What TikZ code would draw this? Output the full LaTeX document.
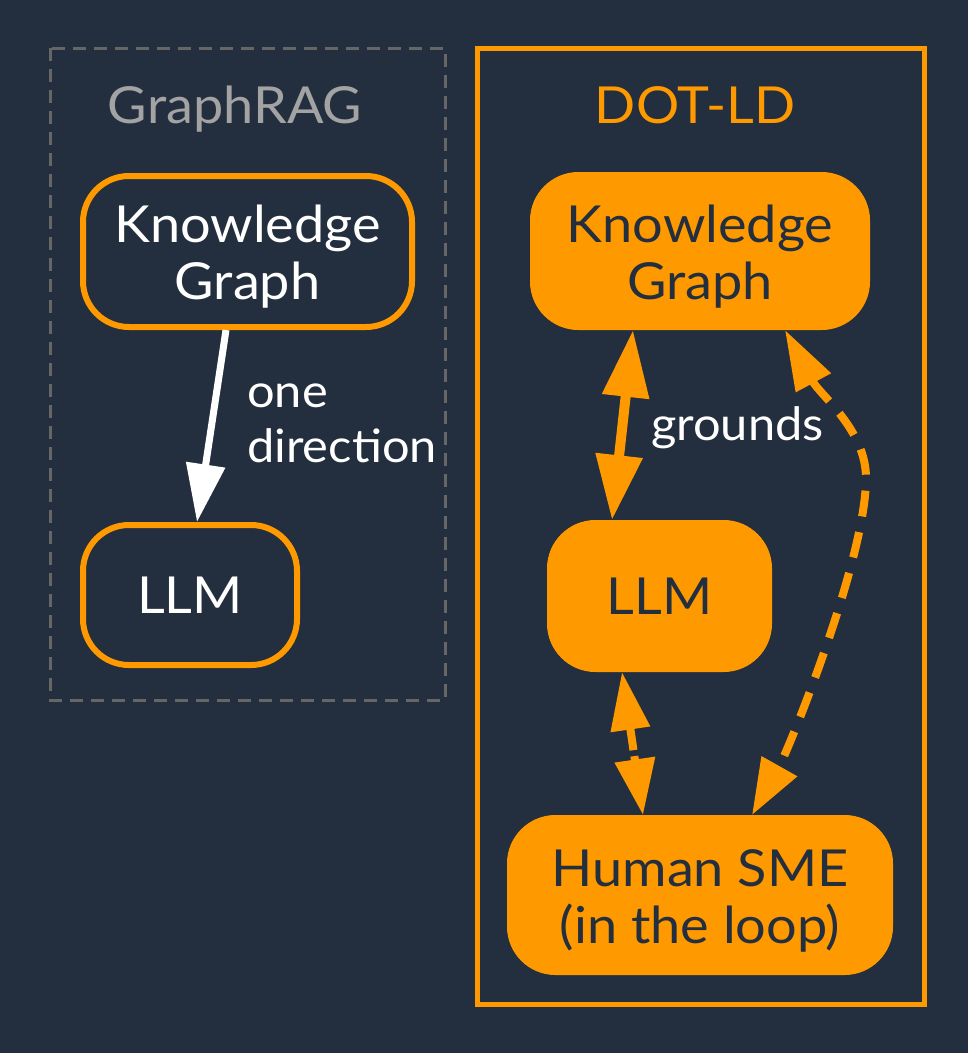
\documentclass[tikz,border=0pt]{standalone}
\usepackage{fontspec}
\setmainfont{Lato}[FakeStretch=1.06]
\usetikzlibrary{arrows.meta,calc}
\definecolor{ink}{HTML}{232F3E}
\definecolor{amber}{HTML}{FF9900}
\definecolor{clgrey}{HTML}{666666}
\definecolor{lblgrey}{HTML}{A3A3A3}
% invisible height that lowers two-line node text a little
\newcommand{\lowerby}{\rule{0pt}{48pt}}
\tikzset{
  x=1pt, y=-1pt,
  nodetext/.style={font=\fontsize{51}{57}\selectfont, align=center},
  outlined/.style={nodetext, draw=amber, line width=6pt, fill=ink, text=white,
    rounded corners=46pt, inner sep=0pt},
  solid box/.style={nodetext, draw=amber, fill=amber, line width=1pt, text=ink,
    rounded corners=48pt, inner sep=0pt},
  edgelabel/.style={font=\fontsize{46}{55}\selectfont, text=white, align=left, inner sep=0pt},
  clusterlabel/.style={font=\fontsize{51}{60}\selectfont, inner sep=0pt},
}
\begin{document}
\begin{tikzpicture}
  % canvas
  \fill[ink] (0,0) rectangle (968,1053);
  \useasboundingbox (0,0) rectangle (968,1053);

  % clusters
  \draw[clgrey, line width=3pt, dash pattern=on 13pt off 8pt] (50,48) rectangle (445,700);
  \node[clusterlabel, text=lblgrey, anchor=base] (graphragLabel) at (235,123) {GraphRAG};
  \draw[amber, line width=5pt] (477,48) rectangle (924,1004);
  \node[clusterlabel, text=amber, anchor=base] (dotldLabel) at (695,123) {DOT-LD};

  % GraphRAG nodes
  \node[outlined, minimum width=329pt, minimum height=151pt] (kgL) at (247.5,251.5) {\lowerby Knowledge\\Graph};
  \node[outlined, minimum width=214pt, minimum height=140pt] (llmL) at (190,595) {LLM};

  % DOT-LD nodes
  \node[solid box, minimum width=339pt, minimum height=157pt] (kgR) at (700,251) {\lowerby Knowledge\\Graph};
  \node[solid box, minimum width=224pt, minimum height=151pt] (llmR) at (659.5,596) {LLM};
  \node[solid box, minimum width=385pt, minimum height=159pt] (sme) at (700,895) {\lowerby Human SME\\(in the loop)};

  % GraphRAG edge
  \draw[white, line width=7pt, -{Triangle[length=58pt,width=38pt]}]
    ([xshift=-21.5pt]kgL.south) -- ([xshift=7pt]llmL.north);
  \node[edgelabel, anchor=base west] (oneDir) at (247,462) {one\\direction};

  % DOT-LD edges
  \draw[amber, line width=10pt, {Triangle[length=67pt,width=45pt]}-{Triangle[length=65pt,width=45pt]}]
    ([xshift=-67pt]kgR.south) -- ([xshift=-47.5pt]llmR.north);
  \node[edgelabel, anchor=base west] (grounds) at (651,440) {grounds};

  \draw[amber, line width=8pt, dash pattern=on 23pt off 6pt,
        {Triangle[length=58pt,width=38pt]}-{Triangle[length=56pt,width=39pt]}]
    ([xshift=-37.5pt]llmR.south) -- ([xshift=-57pt]sme.north);

  \draw[amber, line width=8pt, dash pattern=on 26pt off 16pt,
        {Triangle[length=60pt,width=38pt]}-{Triangle[length=56pt,width=39pt]}]
    ([xshift=85pt]kgR.south) .. controls (820,395) and (866,430) .. (866,478)
    .. controls (866,560) and (788,751) .. ([xshift=52pt]sme.north);
\end{tikzpicture}
\end{document}
